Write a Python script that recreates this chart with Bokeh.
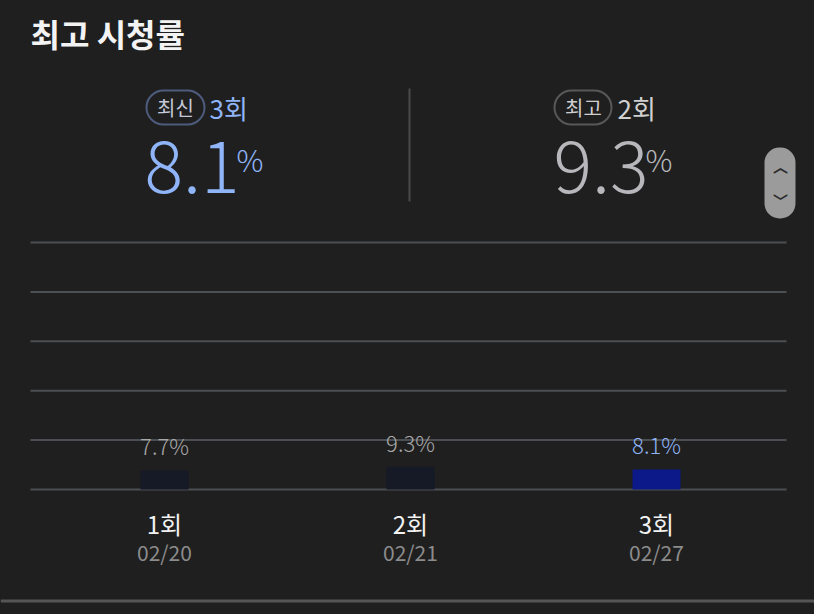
from bokeh.plotting import figure
from bokeh.models import (Range1d, ColumnDataSource, LabelSet, Label, BoxAnnotation)
from bokeh.core.properties import value
from bokeh.embed import file_html
from bokeh.resources import INLINE

# ---- data ----
title_text = "최고 시청률"
episodes = ["1회", "2회", "3회"]
dates = ["02/20", "02/21", "02/27"]
ratings = [7.7, 9.3, 8.1]
y_ticks = [0, 20, 40, 60, 80, 100]
latest_badge = "최신"
best_badge = "최고"

# ---- layout (the frame covers the whole canvas; page px -> screen px) ----
W, H = 814, 614


def sx(px):
    return px


def sy(py):
    return H - py


# data ranges chosen so that the chart area lies at page x 30..786, y 242..489
X_RANGE = (0.33333, 3.64228)
Y_RANGE = (-50.607, 197.976)
CHART_X0, CHART_X1 = 0.45528, 3.52846

KR = "Noto Sans CJK KR"
KRL = "Noto Sans CJK KR Light"
BG = "#1f1f1f"
BLUE = "#8fb4f7"
GREY_TXT = "#b7b7bc"

xs = list(range(1, len(episodes) + 1))
latest_i = len(ratings) - 1
best_i = max(range(len(ratings)), key=lambda i: ratings[i])

bar_colors = ["#0b1a88" if i == latest_i else "#161a27" for i in range(len(ratings))]
lbl_colors = [BLUE if i == latest_i else "#a8a8a8" for i in range(len(ratings))]

src = ColumnDataSource(dict(
    x=xs, top=ratings, color=bar_colors, lcolor=lbl_colors,
    label=[f"{r}%" for r in ratings], ep=episodes, date=dates,
))
grid_src = ColumnDataSource(dict(
    x0=[CHART_X0] * len(y_ticks), x1=[CHART_X1] * len(y_ticks),
    y=y_ticks,
))

p = figure(width=W, height=H,
           x_range=Range1d(*X_RANGE), y_range=Range1d(*Y_RANGE),
           x_axis_type=None, y_axis_type=None,
           output_backend="svg", toolbar_location=None,
           min_border=0,
           background_fill_color=BG, border_fill_color=BG,
           outline_line_color=None)
p.xgrid.visible = False
p.ygrid.visible = False

# horizontal grid lines
p.segment(x0="x0", x1="x1", y0="y", y1="y", source=grid_src,
          line_color="#4b4f53", line_width=2)

# bars
p.vbar(x="x", top="top", bottom=0, width=0.195, fill_color="color",
       line_color=None, source=src)

# value labels
p.add_layout(LabelSet(x="x", y="top", text="label", source=src,
                      text_align="center", text_baseline="bottom", y_offset=9,
                      text_font=value(KRL), text_font_size="22px",
                      text_color="lcolor"))
# category labels
p.add_layout(LabelSet(x="x", y=sy(523), y_units="screen", text="ep", source=src,
                      text_align="center", text_baseline="middle",
                      text_font=value(KR), text_font_size="24px",
                      text_color="#f2f2f2"))
p.add_layout(LabelSet(x="x", y=sy(551), y_units="screen", text="date", source=src,
                      text_align="center", text_baseline="middle",
                      text_font=value(KR), text_font_size="21px",
                      text_color="#8c8c8c"))


def lab(x, y, text, font=KR, size="20px", color="#ffffff", style="normal",
        align="left", baseline="middle", angle=0):
    p.add_layout(Label(x=sx(x), y=sy(y), x_units="screen", y_units="screen",
                       text=text, text_font=font, text_font_size=size,
                       text_color=color, text_font_style=style,
                       text_align=align, text_baseline=baseline,
                       angle=angle, angle_units="deg"))


def box(l, r, t, b, fill=None, line=None, lw=2, radius=0):
    p.add_layout(BoxAnnotation(left=sx(l), right=sx(r), top=sy(t), bottom=sy(b),
                               left_units="screen", right_units="screen",
                               top_units="screen", bottom_units="screen",
                               fill_color=fill if fill else "#000000",
                               fill_alpha=1 if fill else 0,
                               line_color=line, line_width=lw, line_alpha=1,
                               border_radius=radius))


# title
lab(30, 32, title_text, size="32px", color="#f3f3f3", style="bold")

# latest block
box(146, 204, 90, 124, line="#4d5c7d", lw=2, radius=17)
lab(175, 107, latest_badge, size="20px", color="#c3c9d8", align="center")
lab(209, 107, episodes[latest_i], size="26px", color=BLUE)
lab(144, 166, f"{ratings[latest_i]}", font=KRL, size="72px", color=BLUE,
    baseline="alphabetic")
lab(236, 158, "%", font=KRL, size="30px", color=BLUE, baseline="alphabetic")

# divider
box(408, 410, 88, 201, fill="#4a4a4a")

# best block
box(554, 611, 90, 124, line="#585858", lw=2, radius=17)
lab(583, 107, best_badge, size="20px", color="#cfcfcf", align="center")
lab(617, 107, episodes[best_i], size="26px", color="#d0d0d0")
lab(553, 166, f"{ratings[best_i]}", font=KRL, size="72px", color=GREY_TXT,
    baseline="alphabetic")
lab(645, 158, "%", font=KRL, size="30px", color=GREY_TXT, baseline="alphabetic")

# scroll button
box(764, 795, 147, 218, fill="#9b9b9b", radius=15)
lab(780, 165, "︿", size="15px", color="#2b2b2b", align="center", style="bold")
lab(780, 200, "﹀", size="15px", color="#2b2b2b", align="center", style="bold")

# bottom rule
box(0, 814, 599, 602, fill="#555555")

html = file_html(p, INLINE)
html = html.replace("<body>", '<body style="background-color:#1f1f1f;">')
open("out.html", "w").write(html)
